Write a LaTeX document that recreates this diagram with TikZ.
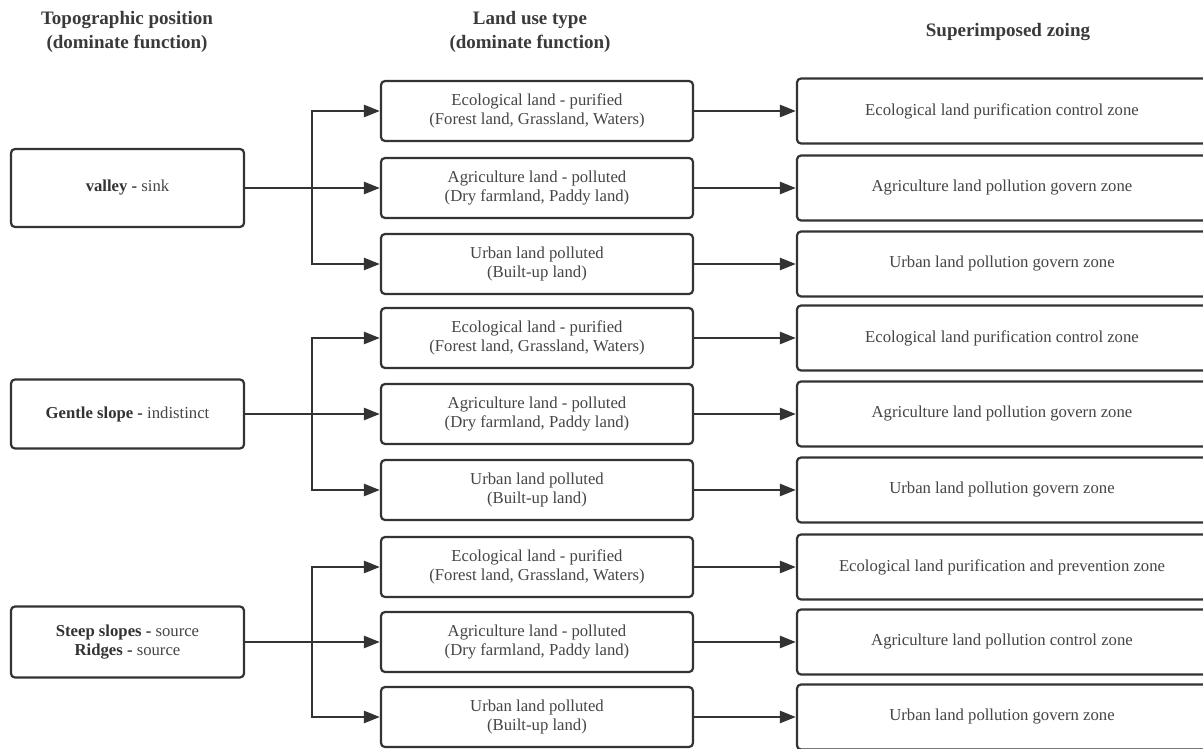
\documentclass[tikz,border=0pt]{standalone}
\usepackage{fontspec}
\setmainfont{Liberation Serif}
\usetikzlibrary{arrows.meta}
\definecolor{ln}{HTML}{333333}
\definecolor{tx}{HTML}{454545}
\definecolor{hd}{HTML}{3A3A3A}
\tikzset{
  box/.style={draw=ln, line width=2.2pt, rounded corners=4pt, fill=white, align=center,
    text=tx, font=\fontsize{16.7}{19.5}\selectfont, inner sep=0pt},
  lbox/.style={box, minimum width=233pt},
  mbox/.style={box, minimum width=312pt, minimum height=60pt},
  rbox/.style={box, minimum width=410pt, minimum height=65pt},
  conn/.style={draw=ln, line width=2.5pt, -{Triangle[length=16pt,width=12pt]}},
  hdr/.style={align=center, text=hd, font=\bfseries\fontsize{19}{24}\selectfont, inner sep=0pt},
}
\begin{document}
\begin{tikzpicture}[x=1pt,y=-1pt]
\clip (0,0) rectangle (1203,749);
\fill[white] (0,0) rectangle (1203,749);

% headers
\node[hdr] (h1) at (127,32) {Topographic position\\(dominate function)};
\node[hdr] (h2) at (530,32) {Land use type\\(dominate function)};
\node[hdr] (h3) at (1008,32) {Superimposed zoing};

% left boxes
\node[lbox, minimum height=78pt] (v) at (127.5,188) {\textbf{\color{ln}valley -} sink};
\node[lbox, minimum height=69pt] (g) at (127.5,414) {\textbf{\color{ln}Gentle slope -} indistinct};
\node[lbox, minimum height=71pt] (s) at (127.5,642) {\textbf{\color{ln}Steep slopes -} source\\\textbf{\color{ln}Ridges -} source};

% middle boxes
\node[mbox] (m1) at (537,111) {Ecological land - purified\\(Forest land, Grassland, Waters)};
\node[mbox] (m2) at (537,188) {Agriculture land - polluted\\(Dry farmland, Paddy land)};
\node[mbox] (m3) at (537,264) {Urban land polluted\\(Built-up land)};
\node[mbox] (m4) at (537,338) {Ecological land - purified\\(Forest land, Grassland, Waters)};
\node[mbox] (m5) at (537,414) {Agriculture land - polluted\\(Dry farmland, Paddy land)};
\node[mbox] (m6) at (537,490) {Urban land polluted\\(Built-up land)};
\node[mbox] (m7) at (537,567) {Ecological land - purified\\(Forest land, Grassland, Waters)};
\node[mbox] (m8) at (537,642) {Agriculture land - polluted\\(Dry farmland, Paddy land)};
\node[mbox] (m9) at (537,717) {Urban land polluted\\(Built-up land)};

% right boxes
\node[rbox] (r1) at (1002,111) {Ecological land purification control zone};
\node[rbox] (r2) at (1002,188) {Agriculture land pollution govern zone};
\node[rbox] (r3) at (1002,264) {Urban land pollution govern zone};
\node[rbox] (r4) at (1002,338) {Ecological land purification control zone};
\node[rbox] (r5) at (1002,414) {Agriculture land pollution govern zone};
\node[rbox] (r6) at (1002,490) {Urban land pollution govern zone};
\node[rbox] (r7) at (1002,567) {Ecological land purification and prevention zone};
\node[rbox] (r8) at (1002,642) {Agriculture land pollution control zone};
\node[rbox] (r9) at (1002,717) {Urban land pollution govern zone};

% junctions
\coordinate (j1) at (312,188);
\coordinate (j2) at (312,414);
\coordinate (j3) at (312,642);

% left to middle
\draw[conn] (v.east) -- (m2.west);
\draw[conn] (j1) |- (m1.west);
\draw[conn] (j1) |- (m3.west);
\draw[conn] (g.east) -- (m5.west);
\draw[conn] (j2) |- (m4.west);
\draw[conn] (j2) |- (m6.west);
\draw[conn] (s.east) -- (m8.west);
\draw[conn] (j3) |- (m7.west);
\draw[conn] (j3) |- (m9.west);

% middle to right
\foreach \i in {1,...,9} {\draw[conn] (m\i.east) -- (r\i.west);}
\end{tikzpicture}
\end{document}
